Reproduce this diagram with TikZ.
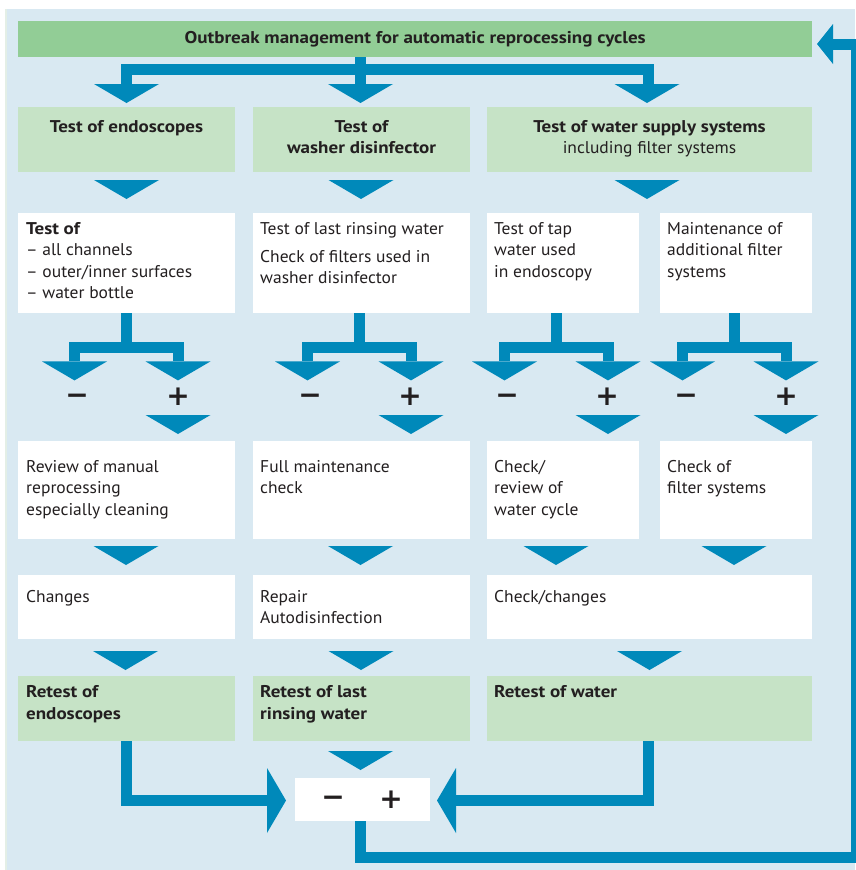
\documentclass[tikz,border=0pt]{standalone}
\usepackage{fontspec}
\setmainfont{PT Sans}[FakeStretch=1.03, BoldFeatures={FakeStretch=1.12}]
\newfontfamily\signfont{DejaVu Sans}[BoldFont={DejaVu Sans Bold}]
\usetikzlibrary{calc}
\definecolor{bgblue}{HTML}{D9E9F2}
\definecolor{tgreen}{HTML}{92CD96}
\definecolor{lgreen}{HTML}{C6E3C6}
\definecolor{ablue}{HTML}{0089BA}
\definecolor{tdark}{HTML}{231F20}
\definecolor{edgestrip}{HTML}{E4EFE6}
\begin{document}
\begin{tikzpicture}[x=1pt,y=-1pt,
  boxw/.style={fill=white, inner sep=0, anchor=north west, draw=none},
  boxg/.style={fill=lgreen, inner sep=0, anchor=north west, draw=none},
  conn/.style={draw=ablue, line width=11pt, line join=miter},
  txt/.style={anchor=north west, inner sep=0, align=left, text=tdark, font=\fontsize{17}{21.5}\selectfont},
  hdr/.style={anchor=north, inner sep=0, align=center, text=tdark, font=\fontsize{17}{21.5}\selectfont},
  sign/.style={inner sep=0, text=tdark, text height=0pt, text depth=0pt, anchor=center, font=\signfont\fontsize{28}{28}\selectfont\bfseries},
  pics/dhead/.style={code={\fill[ablue] (-32.5,0) -- (32.5,0) -- (0,19) -- cycle;}},
  pics/branch/.style={code={
     \draw[conn] (0,0) -- (0,34.5);
     \draw[conn] (-52,48) -- (-52,34.5) -- (51.5,34.5) -- (51.5,48);
     \fill[ablue] (-84.5,48) -- (-19.5,48) -- (-52,67) -- cycle;
     \fill[ablue] (19,48) -- (84,48) -- (51.5,67) -- cycle;
  }},
]
\useasboundingbox (0,0) rectangle (855,870);
\fill[white] (0,0) rectangle (855,870);
\fill[bgblue] (5,9) rectangle (855,870);
\fill[edgestrip] (5,9) rectangle (7,870);

% column stem coordinates
\coordinate (cA) at (126.5,0);
\coordinate (cB) at (360.5,0);
\coordinate (cC) at (648,0);
\coordinate (sB) at (359.5,0);
\coordinate (sC1) at (556.5,0);
\coordinate (sC2) at (734.5,0);

% title
\node[fill=tgreen, inner sep=0, anchor=north west, minimum width=794pt, minimum height=36pt] (title) at (18,21) {};
\node[text=tdark, inner sep=0, font=\fontsize{17}{21}\selectfont\bfseries] (ttl) at ([yshift=-0.5pt]title.center) {Outbreak management for automatic reprocessing cycles};

% top distribution
\draw[conn] (title.south -| cB) -- (cB |- 0,84);
\draw[conn] (cA |- 0,84) -- (cA |- 0,69.5) -- (cC |- 0,69.5) -- (cC |- 0,84);
\pic at (126.5,84) {dhead};
\pic at (360.5,84) {dhead};
\pic at (647,84) {dhead};

% row 1
\node[boxg, minimum width=217pt, minimum height=65pt] (r1a) at (18,107) {};
\node[boxg, minimum width=217pt, minimum height=65pt] (r1b) at (253,107) {};
\node[boxg, minimum width=325pt, minimum height=65pt] (r1c) at (487,107) {};
\node[hdr] (h1a) at (126.5,120) {\bfseries Test of endoscopes};
\node[hdr] (h1b) at (361.5,120) {\bfseries Test of\\\bfseries washer disinfector};
\node[hdr] (h1c) at (649.5,120) {\bfseries Test of water supply systems\\including filter systems};

\pic at (126.5,180) {dhead};
\pic at (361,180) {dhead};
\pic at (647,180) {dhead};

% row 2
\node[boxw, minimum width=217pt, minimum height=100pt] (r2a) at (18,213) {};
\node[boxw, minimum width=217pt, minimum height=100pt] (r2b) at (253,213) {};
\node[boxw, minimum width=152pt, minimum height=100pt] (r2c) at (487,213) {};
\node[boxw, minimum width=152pt, minimum height=100pt] (r2d) at (660,213) {};
\node[txt] (t2a) at (26,222) {\bfseries Test of\\– all channels\\– outer/inner surfaces\\– water bottle};
\node[txt] (t2b) at (260,222) {Test of last rinsing water\\[6.5pt]Check of filters used in\\washer disinfector};
\node[txt] (t2c) at (494,222) {Test of tap\\water used\\in endoscopy};
\node[txt] (t2d) at (667,222) {Maintenance of\\additional filter\\systems};

% branches
\pic at (r2a.south -| cA) {branch};
\pic at (r2b.south -| sB) {branch};
\pic at (r2c.south -| sC1) {branch};
\pic at (r2d.south -| sC2) {branch};

% signs (node point = baseline)
\node[sign] (mA) at (77,404) {−};
\node[sign] (pA) at (178,405.5) {+};
\node[sign] (mB) at (310,404) {−};
\node[sign] (pB) at (410,405.5) {+};
\node[sign] (mC) at (507,404) {−};
\node[sign] (pC) at (607,405.5) {+};
\node[sign] (mD) at (686,404) {−};
\node[sign] (pD) at (786,405.5) {+};

\pic at (178,415) {dhead};
\pic at (411,415) {dhead};
\pic at (608,415) {dhead};
\pic at (786,415) {dhead};

% row 3
\node[boxw, minimum width=217pt, minimum height=98pt] (r3a) at (18,441) {};
\node[boxw, minimum width=217pt, minimum height=98pt] (r3b) at (253,441) {};
\node[boxw, minimum width=152pt, minimum height=98pt] (r3c) at (487,441) {};
\node[boxw, minimum width=152pt, minimum height=98pt] (r3d) at (660,441) {};
\node[txt] (t3a) at (26,460) {Review of manual\\reprocessing\\especially cleaning};
\node[txt] (t3b) at (260,460) {Full maintenance\\check};
\node[txt] (t3c) at (494,460) {Check/\\review of\\water cycle};
\node[txt] (t3d) at (667,460) {Check of\\filter systems};

\pic at (126,546) {dhead};
\pic at (360.5,546) {dhead};
\pic at (556,546) {dhead};
\pic at (734,546) {dhead};

% row 4
\node[boxw, minimum width=217pt, minimum height=64pt] (r4a) at (18,575) {};
\node[boxw, minimum width=217pt, minimum height=64pt] (r4b) at (253,575) {};
\node[boxw, minimum width=325pt, minimum height=64pt] (r4c) at (487,575) {};
\node[txt] (t4a) at (26,590) {Changes};
\node[txt] (t4b) at (260,590) {Repair\\Autodisinfection};
\node[txt] (t4c) at (494,590) {Check/changes};

\pic at (125.5,651) {dhead};
\pic at (361,651) {dhead};
\pic at (649.5,651) {dhead};

% row 5
\node[boxg, minimum width=217pt, minimum height=65pt] (r5a) at (18,676) {};
\node[boxg, minimum width=217pt, minimum height=65pt] (r5b) at (253,676) {};
\node[boxg, minimum width=325pt, minimum height=65pt] (r5c) at (487,676) {};
\node[txt, font=\fontsize{17}{21.5}\selectfont\bfseries] (t5a) at (26,685.5) {Retest of\\endoscopes};
\node[txt, font=\fontsize{17}{21.5}\selectfont\bfseries] (t5b) at (260,685.5) {Retest of last\\rinsing water};
\node[txt, font=\fontsize{17}{21.5}\selectfont\bfseries] (t5c) at (494,685.5) {Retest of water};

\pic at (360.5,751) {dhead};

% final decision box
\node[boxw, minimum width=135pt, minimum height=43pt] (fin) at (295,778) {};
\node[sign] (mF) at (333,806.5) {−};
\node[sign] (pF) at (391,808.5) {+};

\draw[conn] (r5a.south -| cA) -- (cA |- 0,800.5) -- (267,800.5);
\fill[ablue] (267,768) -- (286,800.5) -- (267,833) -- cycle;
\draw[conn] (r5c.south -| cC) -- (cC |- 0,800.5) -- (456,800.5);
\fill[ablue] (456,768) -- (437,800.5) -- (456,833) -- cycle;

\draw[conn] (fin.south -| cB) -- (cB |- 0,857.5) -- (856,857.5) -- (856,44) -- (833,44);
\fill[ablue] (833,24) -- (817,44) -- (833,64) -- cycle;
\end{tikzpicture}
\end{document}
